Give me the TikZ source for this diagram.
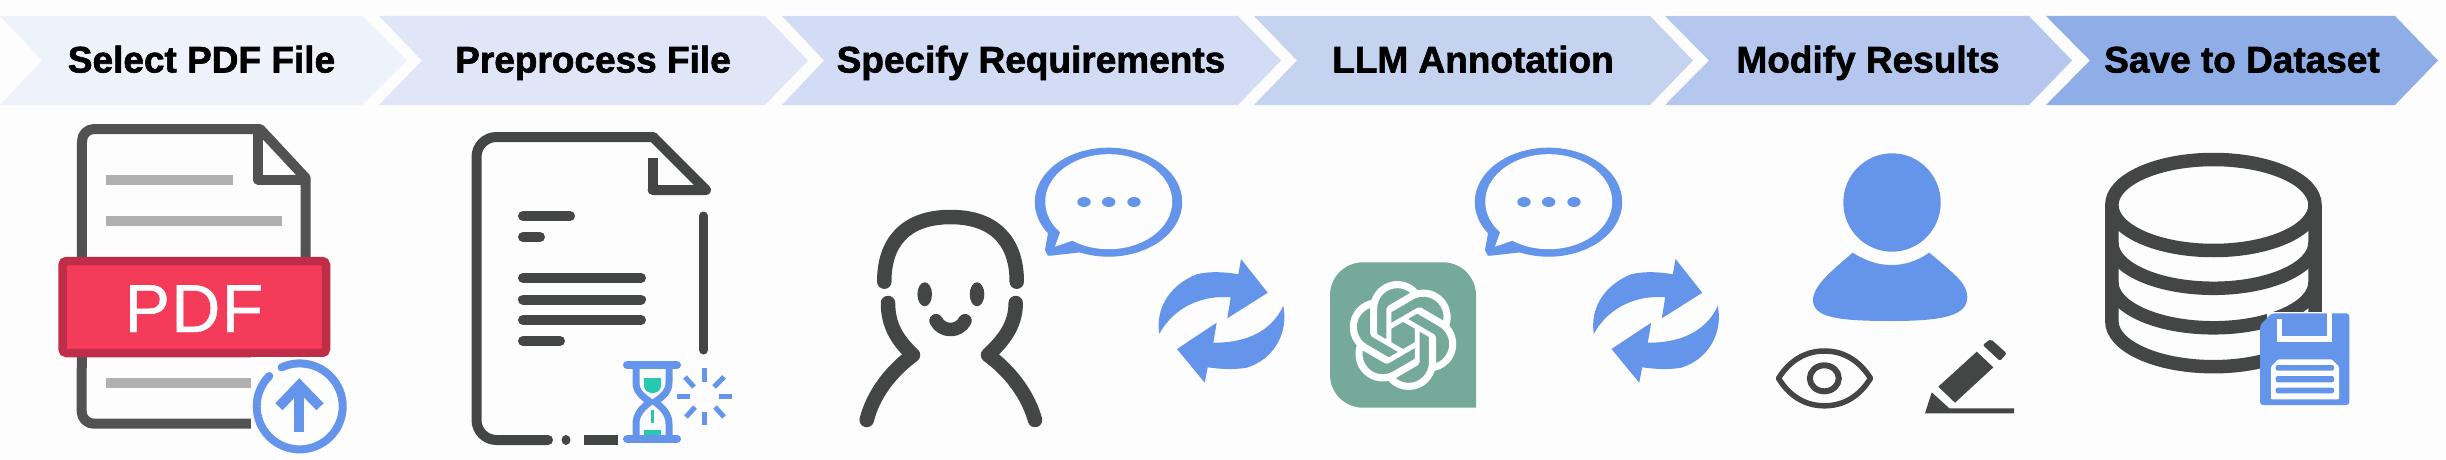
\documentclass[tikz,border=0pt]{standalone}
\usepackage{fontspec}
\setmainfont{Liberation Sans}
\newfontfamily\stepfont{Liberation Sans}[BoldFeatures={FakeBold=1.6}]
\newfontfamily\badgefont{Liberation Sans}[FakeBold=0.6,LetterSpace=2]
\usetikzlibrary{svg.path}
\definecolor{bgc}{HTML}{FDFDFD}
\definecolor{ink}{HTML}{444645}
\definecolor{inkb}{HTML}{525252}
\definecolor{blu}{HTML}{6595EA}
\definecolor{gry}{HTML}{B0B0B0}
\definecolor{redf}{HTML}{F43B5A}
\definecolor{redd}{HTML}{C02D48}
\definecolor{grn}{HTML}{26C9AE}
\definecolor{gpt}{HTML}{75A99A}
\definecolor{cha}{HTML}{EEF2FB}
\definecolor{chb}{HTML}{E0E6F8}
\definecolor{chc}{HTML}{D2DCF5}
\definecolor{chd}{HTML}{C5D3F0}
\definecolor{che}{HTML}{B5C7EF}
\definecolor{chf}{HTML}{8FADE6}
\newcommand{\chevshape}[5]{\fill[#1] (#2,-16) -- (#4,-16) -- (#5,-60.5) -- (#4,-105) -- (#2,-105) -- (#3,-60.5) -- cycle;}
\tikzset{
  steplabel/.style={anchor=base,inner sep=0pt,font=\fontsize{37}{40}\stepfont\bfseries\selectfont,text=black},
  inkline/.style={draw=ink,line width=10pt,line cap=round,line join=round},
  docline/.style={draw=inkb,line width=10pt,line cap=butt,line join=round},
  bluline/.style={draw=blu,line width=5pt},
  greybar/.style={fill=gry},
  textbar/.style={draw=ink,line width=10pt,line cap=round},
  inkthin/.style={draw=ink,line width=5.5pt,line join=round},
  faceline/.style={draw=ink,line width=14.5pt,line cap=round,line join=round},
  dbline/.style={draw=ink,line width=13.5pt},
  recyc/.pic={
    \fill[blu] (1159.3,-334) .. controls (1155,-306) and (1172,-284) .. (1196.7,-274.3) .. controls (1210,-271) and (1226,-272) .. (1238.3,-274.3) -- (1241,-259) -- (1267.7,-292.7) -- (1227.3,-318.3) -- (1230.7,-297.3) .. controls (1205,-295) and (1175,-305) .. cycle;
    \fill[blu] (1283.3,-305.7) .. controls (1289,-335) and (1272,-360) .. (1246.7,-367.7) .. controls (1233,-370) and (1220,-369) .. (1207.7,-367.3) -- (1204.7,-382.7) -- (1177,-349) -- (1216.7,-322.7) -- (1213.3,-342.7) .. controls (1240,-343) and (1270,-335) .. cycle;
  },
  speech/.pic={
    \fill[blu,draw=blu,line width=1pt,line join=round] (1079.9,-251.9) arc[start angle=247,end angle=575,x radius=73.2,y radius=54] -- (1045.5,-250) -- (1048,-255) -- (1052,-255) -- cycle;
    \fill[bgc] (1072.3,-240.6) arc[start angle=235,end angle=580,x radius=63.5,y radius=47.5] -- (1055,-246.7) -- cycle;
    \foreach \dx in {1084,1108.7,1134}{\fill[blu] (\dx,-202) ellipse[x radius=6.7,y radius=5];}
  }
}
\begin{document}
\begin{tikzpicture}[x=1pt,y=1pt]
\useasboundingbox (0,-460) rectangle (2446,0);
\fill[bgc] (0,-460) rectangle (2446,0);
% chevrons
\chevshape{cha}{0}{42}{362}{407}
\chevshape{chb}{379}{422}{765}{808}
\chevshape{chc}{782}{824}{1238}{1281}
\chevshape{chd}{1254}{1297}{1650}{1693}
\chevshape{che}{1665}{1709}{2029}{2072}
\chevshape{chf}{2046}{2090}{2395}{2438}
\node[steplabel] (s1) at (201.5,-72.5) {Select PDF File};
\node[steplabel] (s2) at (593,-72.5) {Preprocess File};
\node[steplabel] (s3) at (1031,-72.5) {Specify Requirements};
\node[steplabel] (s4) at (1473,-72.5) {LLM Annotation};
\node[steplabel] (s5) at (1868,-72.5) {Modify Results};
\node[steplabel] (s6) at (2242,-72.5) {Save to Dataset};
% PDF document
\draw[docline] (260,-129) -- (94,-129) arc[start angle=90,end angle=180,radius=12] -- (81.7,-411.7) arc[start angle=180,end angle=270,radius=12] -- (251,-423.7);
\draw[docline] (258,-129) -- (260,-129) -- (305.7,-178) -- (305.7,-262);
\draw[docline] (257.7,-131) -- (257.7,-179.5) -- (305.7,-179.5);
\fill[greybar] (105.7,-175) rectangle (233.3,-185);
\fill[greybar] (105.7,-215.7) rectangle (282,-226);
\fill[greybar] (105.7,-378) rectangle (251,-388);
\draw[draw=redd,fill=redf,line width=8.5pt,rounded corners=4pt] (62.5,-261) rectangle (326,-353);
\node[anchor=base,inner sep=0pt,text=white,font=\fontsize{68}{70}\badgefont\selectfont] (pdft) at (194,-332) {PDF};
\fill[bgc] (251,-357.3) rectangle (350,-440);
\draw[draw=blu,line width=8pt,line cap=round] (269.3,-376) arc[start angle=135,end angle=475,radius=43];
\draw[draw=blu,line width=10pt] (299.3,-431.7) -- (299.3,-386);
\draw[draw=blu,line width=10pt,line join=miter] (279,-406.7) -- (299.3,-385.4) -- (320,-406.7);
% Preprocess document
\draw[inkline] (653,-137) -- (496.5,-137) arc[start angle=90,end angle=180,radius=20] -- (476.5,-420) arc[start angle=180,end angle=270,radius=20] -- (548,-440);
\draw[inkline] (653,-137) -- (706,-190) -- (652.6,-190);
\draw[inkline,line cap=butt] (652.6,-158) -- (652.6,-190);
\draw[inkline,line width=9pt] (703.5,-216) -- (703.5,-350);
\fill[ink] (566,-440) ellipse[x radius=4.5,y radius=5];
\draw[inkline,line cap=butt] (584,-440) -- (618,-440);
\draw[textbar] (523,-216) -- (570,-216);
\draw[textbar] (523,-237) -- (540,-237);
\draw[textbar] (523,-278) -- (641,-278);
\draw[textbar] (523,-299.5) -- (641,-299.5);
\draw[textbar] (523,-320) -- (641,-320);
\draw[textbar] (523,-341) -- (560,-341);
% hourglass
\fill[grn] (644,-378) -- (661,-378) -- (661,-386) .. controls (661,-391) and (656,-393) .. (652.5,-393) .. controls (649,-393) and (644,-391) .. (644,-386) -- cycle;
\fill[grn] (650.5,-410) rectangle (653.5,-423);
\fill[grn] (644,-430) rectangle (661,-436);
\draw[draw=blu,line width=7pt] (636,-369) -- (636,-382) .. controls (636,-392) and (642,-396) .. (650,-402) .. controls (642,-408) and (636,-414) .. (636,-424) -- (636,-437);
\draw[draw=blu,line width=7pt] (669,-369) -- (669,-382) .. controls (669,-392) and (663,-396) .. (655,-402) .. controls (663,-408) and (669,-414) .. (669,-424) -- (669,-437);
\draw[draw=blu,line width=8pt,line cap=round] (627,-365) -- (677,-365);
\draw[draw=blu,line width=8pt,line cap=round] (627,-439) -- (677,-439);
\draw[bluline] (704,-368) -- (704,-382);
\draw[bluline] (704,-412) -- (704,-425);
\draw[bluline] (677,-396) -- (690,-396);
\draw[bluline] (719,-396) -- (732,-396);
\draw[bluline] (685,-377) -- (694,-387);
\draw[bluline] (724,-377) -- (714,-387);
\draw[bluline] (686,-417) -- (695,-407);
\draw[bluline] (724,-417) -- (715,-407);
% face
\draw[faceline] (884.3,-281.7) .. controls (884,-243) and (905,-217) .. (950.5,-217) .. controls (996,-217) and (1017,-243) .. (1016.7,-281.7);
\draw[faceline] (888,-303) .. controls (888,-325) and (897,-340) .. (913,-355) .. controls (890,-372) and (873,-395) .. (866.7,-420);
\draw[faceline] (1015.7,-303) .. controls (1015.7,-325) and (1004,-340) .. (988,-355) .. controls (1011,-372) and (1028,-395) .. (1035,-420);
\fill[ink] (924.7,-294.3) ellipse[x radius=7.3,y radius=12];
\fill[ink] (977,-294.3) ellipse[x radius=7.3,y radius=12];
\draw[faceline,line width=13.5pt] (936,-320.7) .. controls (942,-332.5) and (959,-332.5) .. (965,-320.7);
% speech bubbles
\pic {speech};
\begin{scope}[shift={(440,0)}]\pic {speech};\end{scope}
% recycle arrows
\pic {recyc};
\begin{scope}[shift={(434.5,0)}]\pic {recyc};\end{scope}
% GPT tile
\fill[gpt] (1363,-262.3) -- (1443,-262.3) arc[start angle=90,end angle=0,radius=33] -- (1476,-407.7) -- (1363,-407.7) arc[start angle=270,end angle=180,radius=33] -- (1330,-295.3) arc[start angle=180,end angle=90,radius=33] -- cycle;
\begin{scope}[shift={(1349,-281)},xscale=4.5,yscale=-4.54]
\fill[white,even odd rule] svg {M 22.2819 9.8211 a 5.9847 5.9847 0 0 0 -0.5157 -4.9108 a 6.0462 6.0462 0 0 0 -6.5098 -2.9 A 6.0651 6.0651 0 0 0 4.9807 4.1818 a 5.9847 5.9847 0 0 0 -3.9977 2.9 a 6.0462 6.0462 0 0 0 0.7427 7.0966 a 5.98 5.98 0 0 0 0.511 4.9107 a 6.051 6.051 0 0 0 6.5146 2.9001 A 5.9847 5.9847 0 0 0 13.2599 24 a 6.0557 6.0557 0 0 0 5.7718 -4.2058 a 5.9894 5.9894 0 0 0 3.9977 -2.9001 a 6.0557 6.0557 0 0 0 -0.7475 -7.0729 z
M 13.2599 22.4292 a 4.4755 4.4755 0 0 1 -2.8764 -1.0408 l 0.1419 -0.0804 l 4.7783 -2.7582 a 0.7948 0.7948 0 0 0 0.3927 -0.6813 v -6.7369 l 2.02 1.1686 a 0.071 0.071 0 0 1 0.038 0.052 v 5.5826 a 4.504 4.504 0 0 1 -4.4945 4.4944 z
M 3.5992 18.3038 a 4.4708 4.4708 0 0 1 -0.5346 -3.0137 l 0.142 0.0852 l 4.783 2.7582 a 0.7712 0.7712 0 0 0 0.7806 0 l 5.8428 -3.3685 v 2.3324 a 0.0804 0.0804 0 0 1 -0.0332 0.0615 L 9.74 19.9502 a 4.4992 4.4992 0 0 1 -6.1408 -1.6464 z
M 2.3408 7.8956 a 4.485 4.485 0 0 1 2.3655 -1.9728 V 11.6 a 0.7664 0.7664 0 0 0 0.3879 0.6765 l 5.8144 3.3543 l -2.0201 1.1685 a 0.0757 0.0757 0 0 1 -0.071 0 l -4.8303 -2.7865 A 4.504 4.504 0 0 1 2.3408 7.872 z
M 18.9371 11.7514 L 13.1038 8.364 L 15.1192 7.2 a 0.0757 0.0757 0 0 1 0.071 0 l 4.8303 2.7913 a 4.4944 4.4944 0 0 1 -0.6765 8.1042 v -5.6772 a 0.79 0.79 0 0 0 -0.407 -0.667 z
M 20.9478 8.7283 l -0.142 -0.0852 l -4.7735 -2.7818 a 0.7759 0.7759 0 0 0 -0.7854 0 L 9.409 9.2297 V 6.8974 a 0.0662 0.0662 0 0 1 0.0284 -0.0615 l 4.8303 -2.7866 a 4.4992 4.4992 0 0 1 6.6802 4.66 z
M 8.3065 12.863 l -2.02 -1.1638 a 0.0804 0.0804 0 0 1 -0.038 -0.0567 V 6.0742 a 4.4992 4.4992 0 0 1 7.3757 -3.4537 l -0.142 0.0805 L 8.704 5.459 a 0.7948 0.7948 0 0 0 -0.3927 0.6813 l -0.0048 6.7227 z
M 9.4041 10.4976 l 2.602 -1.4998 l 2.6069 1.4998 v 2.9994 l -2.5974 1.4997 l -2.6067 -1.4997 Z};
\end{scope}
% Modify: person
\fill[blu] (1892,-202.5) ellipse[x radius=48.7,y radius=49.2];
\fill[blu] (1852.7,-252.7) .. controls (1866,-261) and (1878,-265) .. (1891.7,-265) .. controls (1905,-265) and (1917,-261) .. (1929.3,-252.7) .. controls (1938,-260) and (1950,-270) .. (1956.7,-276.7) .. controls (1963,-283) and (1967.3,-290) .. (1967.3,-297) .. controls (1967.3,-315) and (1945,-321) .. (1892,-321) .. controls (1840,-321) and (1813,-318) .. (1813,-300) .. controls (1813,-285) and (1835,-268) .. cycle;
% eye
\draw[inkthin] (1778.5,-378.3) .. controls (1790,-360) and (1806,-351) .. (1824.5,-351) .. controls (1843,-351) and (1859,-360) .. (1870.5,-378.3) .. controls (1859,-397) and (1843,-405.8) .. (1824.5,-405.8) .. controls (1806,-405.8) and (1790,-397) .. cycle;
\draw[inkthin,line width=6pt] (1824.3,-378.3) ellipse[x radius=14.5,y radius=13];
% pencil
\fill[ink] (1938.3,-386.7) -- (1976.7,-351.7) -- (1993.3,-367.3) -- (1955,-402.7) -- cycle;
\fill[ink,rounded corners=2pt] (1982.7,-345) -- (1990.7,-339) -- (2006.7,-353.3) -- (2000,-361) -- cycle;
\fill[ink] (1931.7,-392.3) -- (1949.3,-408.3) -- (2014,-408.3) -- (2014,-413.3) -- (1925,-413.3) -- cycle;
% database
\draw[dbline] (2213.4,-205) ellipse[x radius=101.6,y radius=45.5];
\draw[dbline] (2111.8,-205) -- (2111.8,-321.2) arc[start angle=180,end angle=360,x radius=101.6,y radius=45.5] -- (2315,-205);
\draw[dbline] (2111.8,-242.8) arc[start angle=180,end angle=360,x radius=101.6,y radius=45.5];
\draw[dbline] (2111.8,-282.3) arc[start angle=180,end angle=360,x radius=101.6,y radius=45.5];
% floppy
\fill[bgc] (2266.7,-311.7) rectangle (2321.7,-330);
\fill[blu,rounded corners=3pt] (2271.7,-313.3) -- (2349.3,-313.3) -- (2349.3,-405) -- (2260,-405) -- (2260,-325) -- cycle;
\draw[draw=white,line width=5.5pt] (2279.7,-319) -- (2279.7,-339) -- (2329.7,-339) -- (2329.7,-313.3);
\fill[white,rounded corners=1pt] (2271,-399.3) -- (2271,-366.7) -- (2278.3,-359.3) -- (2331.7,-359.3) -- (2339,-366.7) -- (2339,-399.3) -- cycle;
\fill[blu,rounded corners=2pt] (2275.7,-365) rectangle (2334,-370.7);
\fill[blu,rounded corners=2pt] (2275.7,-376) rectangle (2334,-382.3);
\fill[blu,rounded corners=2pt] (2275.7,-387.7) rectangle (2334,-393.3);
\end{tikzpicture}
\end{document}
